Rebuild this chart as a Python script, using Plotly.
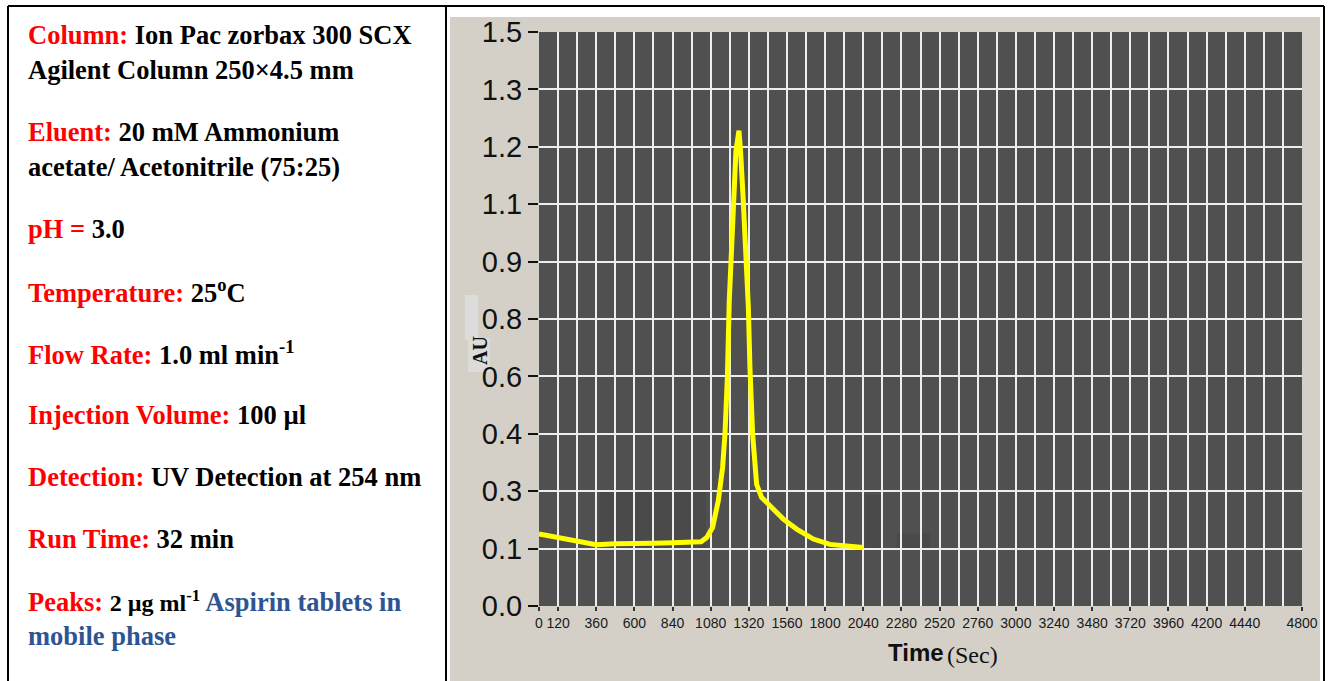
import plotly.graph_objects as go

# Chromatogram trace (time in seconds, absorbance in AU)
time_sec = [0, 60, 120, 240, 360, 480, 600, 720, 840, 960, 1020, 1055, 1092, 1128,
            1155, 1170, 1185, 1197, 1210, 1222, 1239, 1258, 1268, 1285, 1302, 1317,
            1327, 1344, 1369, 1400, 1453, 1537, 1621, 1726, 1830, 1940, 2040]
absorbance = [0.188, 0.183, 0.178, 0.170, 0.160, 0.163, 0.165, 0.164, 0.165, 0.166,
              0.168, 0.179, 0.205, 0.275, 0.362, 0.45, 0.598, 0.798, 0.938, 1.06,
              1.19, 1.242, 1.19, 1.06, 0.929, 0.781, 0.624, 0.449, 0.318, 0.284,
              0.262, 0.227, 0.201, 0.175, 0.161, 0.156, 0.153]

# Axis ticks as shown by the instrument software
x_tickvals = [0, 120, 360, 600, 840, 1080, 1320, 1560, 1800, 2040, 2280, 2520, 2760,
              3000, 3240, 3480, 3720, 3960, 4200, 4440, 4800]
y_tickvals = [0, 0.15, 0.3, 0.45, 0.6, 0.75, 0.9, 1.05, 1.2, 1.35, 1.5]
y_ticktext = ["0.0", "0.1", "0.3", "0.4", "0.6", "0.8", "0.9", "1.1", "1.2", "1.3", "1.5"]

# Chromatographic conditions listed beside the chart
conditions = [
    ("Column:", " Ion Pac zorbax 300 SCX", 35),
    ("", "Agilent Column 250×4.5 mm", 70),
    ("Eluent:", " 20 mM Ammonium", 132),
    ("", "acetate/ Acetonitrile (75:25)", 167),
    ("pH =", " 3.0", 229),
    ("Temperature:", " 25<sup>o</sup>C", 291),
    ("Flow Rate:", " 1.0 ml min<sup>-1</sup>", 353),
    ("Injection Volume:", " 100 µl", 415),
    ("Detection:", " UV Detection at 254 nm", 477),
    ("Run Time:", " 32 min", 539),
]

W, H = 1341, 681
PL, PR, PT, PB = 539, 1302, 32, 606  # plot area in pixels
PANEL = "#D4D0C8"


def px(x):
    return (x - PL) / (PR - PL)


def py(y):
    return (PB - y) / (PB - PT)


fig = go.Figure()
fig.add_trace(go.Scatter(
    x=time_sec, y=absorbance, mode="lines",
    line=dict(color="#FFFF00", width=5), hoverinfo="skip", showlegend=False,
))

shapes = []
# white table cells around the grey instrument panel
for x0, y0, x1, y1 in [(0, -20, 450, 700), (450, -20, 1341, 17), (1320, -20, 1341, 700)]:
    shapes.append(dict(type="rect", xref="paper", yref="paper", layer="below",
                       x0=px(x0), x1=px(x1), y0=py(y1), y1=py(y0),
                       fillcolor="white", line=dict(width=0)))
# faint smudges inside the plot area
for x0, x1, y0, y1 in [(380, 1050, 0.15, 0.30), (2050, 2160, 0.15, 0.29), (2250, 2460, 0.15, 0.19)]:
    shapes.append(dict(type="rect", xref="x", yref="y", layer="below",
                       x0=x0, x1=x1, y0=y0, y1=y1,
                       fillcolor="#4A4A4A", line=dict(width=0)))
# light blob around the axis title
shapes.append(dict(type="rect", xref="paper", yref="paper", layer="below",
                   x0=px(465), x1=px(478), y0=py(340), y1=py(295),
                   fillcolor="#DCDCDA", line=dict(width=0)))
shapes.append(dict(type="rect", xref="paper", yref="paper", layer="below",
                   x0=px(468), x1=px(490), y0=py(372), y1=py(338),
                   fillcolor="#DCDCDA", line=dict(width=0)))
# table borders
for (x0, y0, x1, y1) in [(8, 6, 1324, 6), (8, 6, 8, 700), (446, 6, 446, 700), (1324, 6, 1324, 700)]:
    shapes.append(dict(type="line", xref="paper", yref="paper",
                       x0=px(x0), x1=px(x1), y0=py(y0), y1=py(y1),
                       line=dict(color="black", width=2)))

annotations = []
serif = "Liberation Serif, Times New Roman, serif"
for label, value, y in conditions:
    txt = (f"<span style='color:#FF0000'>{label}</span>" if label else "") + value
    annotations.append(dict(xref="paper", yref="paper", x=px(26), y=py(y),
                            xanchor="left", yanchor="middle", showarrow=False,
                            text=f"<b>{txt}</b>",
                            font=dict(family=serif, size=26.5, color="black")))
annotations.append(dict(
    xref="paper", yref="paper", x=px(26), y=py(601), xanchor="left", yanchor="middle",
    showarrow=False,
    text=("<b><span style='color:#FF0000'>Peaks:</span> "
          "<span style='font-size:24px'>2 µg ml<sup>-1</sup></span> "
          "<span style='color:#2E5593'>Aspirin tablets in</span></b>"),
    font=dict(family=serif, size=26.5, color="black")))
annotations.append(dict(
    xref="paper", yref="paper", x=px(26), y=py(636), xanchor="left", yanchor="middle",
    showarrow=False, text="<b>mobile phase</b>",
    font=dict(family=serif, size=26.5, color="#2E5593")))

# axis titles
annotations.append(dict(xref="paper", yref="paper", x=px(480), y=py(351),
                        xanchor="center", yanchor="middle", showarrow=False,
                        textangle=-90, text="<b>AU</b>",
                        font=dict(family=serif, size=20, color="#111111")))
annotations.append(dict(xref="paper", yref="paper", x=px(946), y=py(652),
                        xanchor="right", yanchor="middle", showarrow=False,
                        text="<b>Time</b>",
                        font=dict(family="Liberation Sans Narrow, Arial Narrow, Arial, sans-serif",
                                  size=24, color="#111111")))
annotations.append(dict(xref="paper", yref="paper", x=px(945), y=py(655),
                        xanchor="left", yanchor="middle", showarrow=False,
                        text="(Sec)",
                        font=dict(family=serif, size=24, color="#111111")))

narrow = "Liberation Sans Narrow, Arial Narrow, Arial, sans-serif"
fig.update_layout(
    width=W, height=H,
    margin=dict(l=PL, r=W - PR, t=PT, b=H - PB, pad=0),
    paper_bgcolor=PANEL, plot_bgcolor="#505050",
    shapes=shapes, annotations=annotations,
    xaxis=dict(range=[0, 4800], tickmode="array", tickvals=x_tickvals,
               ticks="outside", ticklen=4, tickwidth=1.5, tickcolor="#333333",
               tickfont=dict(family=narrow, size=14, color="#1a1a1a"),
               showgrid=True, gridcolor="#EDEDED", gridwidth=1.5,
               minor=dict(tick0=0, dtick=120, showgrid=True, gridcolor="#EDEDED",
                          gridwidth=1.5, ticks=""),
               zeroline=False, showline=False, fixedrange=True),
    yaxis=dict(range=[0, 1.5], tickmode="array", tickvals=y_tickvals, ticktext=y_ticktext,
               ticks="outside", ticklen=10, tickwidth=1.5, tickcolor="#111111",
               tickfont=dict(family=narrow, size=29, color="#111111"),
               showgrid=True, gridcolor="#EDEDED", gridwidth=1.5,
               zeroline=False, showline=False, fixedrange=True),
)

fig.write_html("out.html")
